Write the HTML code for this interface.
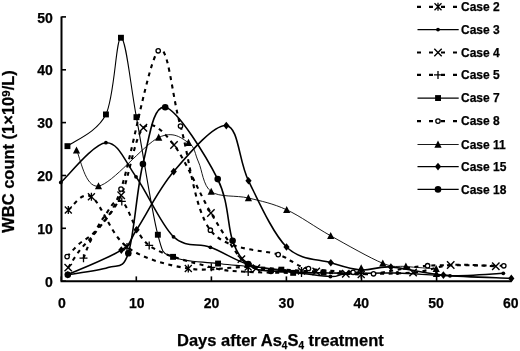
<!DOCTYPE html>
<html><head><meta charset="utf-8"><style>
html,body{margin:0;padding:0;background:#fff;}
body{width:520px;height:351px;overflow:hidden;}
svg{display:block;will-change:transform;}
text{font-family:"Liberation Sans",sans-serif;font-weight:bold;fill:#000;stroke:#000;stroke-width:0.25px;}
.t{font-size:14px;}
.ti{font-size:16.5px;}
.lg{font-size:12px;}
</style></head><body>
<svg width="520" height="351" viewBox="0 0 520 351"><path d="M61.5,16.5V281.2H511.5" fill="none" stroke="#000" stroke-width="2"/><path d="M61.5,281.2h4.5" stroke="#000" stroke-width="1.6"/><path d="M61.5,228.3h4.5" stroke="#000" stroke-width="1.6"/><path d="M61.5,175.5h4.5" stroke="#000" stroke-width="1.6"/><path d="M61.5,122.6h4.5" stroke="#000" stroke-width="1.6"/><path d="M61.5,69.8h4.5" stroke="#000" stroke-width="1.6"/><path d="M61.5,16.9h4.5" stroke="#000" stroke-width="1.6"/><path d="M61.3,281.2v-4.8" stroke="#000" stroke-width="1.6"/><path d="M136.3,281.2v-4.8" stroke="#000" stroke-width="1.6"/><path d="M211.4,281.2v-4.8" stroke="#000" stroke-width="1.6"/><path d="M286.4,281.2v-4.8" stroke="#000" stroke-width="1.6"/><path d="M361.5,281.2v-4.8" stroke="#000" stroke-width="1.6"/><path d="M436.6,281.2v-4.8" stroke="#000" stroke-width="1.6"/><path d="M511.6,281.2v-4.8" stroke="#000" stroke-width="1.6"/><path d="M76.5,150.4 C80.2,156.3 84.8,188.2 98.5,186.1 C112.2,183.9 143.7,144.7 158.7,137.5 C173.7,130.3 181.9,138.6 188.5,142.7 C195.1,146.8 194.7,153.8 198.5,162.0 C202.3,170.2 202.9,185.6 211.2,191.6 C219.5,197.6 235.8,195.0 248.4,198.0 C261.0,201.0 273.0,203.5 286.7,209.8 C300.4,216.1 314.7,226.9 330.7,235.8 C346.7,244.7 370.3,258.2 382.8,263.3 C395.3,268.4 397.0,265.6 405.9,266.5 C414.8,267.4 431.1,268.4 436.2,268.8" fill="none" stroke="#000" stroke-width="0.9"/><path d="M60.8,182.4 C68.3,175.8 93.4,143.6 105.9,142.7 C118.4,141.8 124.7,161.1 136.0,176.8 C147.3,192.5 161.1,225.1 173.5,236.8 C185.9,248.6 198.0,242.7 210.4,247.3 C222.8,251.9 235.8,260.6 248.2,264.5 C260.6,268.4 271.3,269.0 285.0,271.0 C298.7,273.0 320.2,276.0 330.4,276.5 C340.6,277.0 334.8,274.6 346.0,274.0 C357.2,273.4 380.1,272.7 397.4,273.0 C414.7,273.3 432.4,275.8 450.0,275.8 C467.6,275.9 494.4,273.7 503.3,273.3" fill="none" stroke="#000" stroke-width="1.5"/><path d="M67.4,146.2 C73.8,140.9 97.0,132.6 105.9,114.5 C114.8,96.4 115.9,37.3 121.0,37.8 C126.1,38.2 130.3,84.4 136.4,117.2 C142.5,150.0 151.7,211.4 157.8,234.7 C163.9,258.0 163.0,252.1 173.0,256.9 C183.0,261.7 199.9,261.4 218.0,263.5 C236.1,265.6 268.9,268.1 281.4,269.6 C293.9,271.2 286.2,272.3 293.2,272.8 C300.2,273.3 318.4,272.6 323.5,272.5" fill="none" stroke="#000" stroke-width="1.1"/><path d="M67.8,274.7 C76.7,270.6 109.8,257.6 121.3,250.1 C132.8,242.6 127.9,242.8 136.6,229.7 C145.3,216.6 158.8,188.9 173.7,171.6 C188.6,154.2 213.8,124.1 226.3,125.6 C238.8,127.1 238.5,160.6 248.5,180.8 C258.5,201.0 272.8,233.3 286.5,247.0 C300.2,260.6 318.4,258.9 330.8,262.7 C343.2,266.5 351.2,269.3 361.2,270.0 C371.2,270.7 377.2,266.1 390.9,267.0 C404.6,267.9 423.3,273.2 443.4,275.1 C463.5,277.0 500.0,277.8 511.3,278.4" fill="none" stroke="#000" stroke-width="1.6"/><path d="M67.8,274.7 C74.5,273.5 97.9,271.2 108.0,267.6 C118.1,264.0 122.5,270.6 128.3,253.3 C134.1,236.0 136.8,188.3 142.9,164.0 C149.1,139.7 152.7,104.7 165.2,107.2 C177.7,109.7 206.5,156.8 217.7,179.1 C228.9,201.4 227.5,226.7 232.6,240.8 C237.7,255.0 241.8,259.0 248.2,264.0 C254.6,269.0 252.1,269.4 270.9,271.0 C289.7,272.6 346.0,273.1 361.0,273.5" fill="none" stroke="#000" stroke-width="1.6"/><path d="M67.1,256.6 C69.1,254.5 74.0,248.6 79.0,244.0 C84.0,239.4 90.0,238.2 97.0,229.0 C104.0,219.8 110.8,218.7 121.0,189.0 C131.2,159.3 148.3,61.3 158.2,50.8 C168.1,40.3 171.8,96.1 180.5,126.0 C189.2,155.9 194.1,208.8 210.4,230.2 C226.7,251.6 264.9,249.5 278.2,254.6 C291.5,259.6 284.9,258.2 290.0,260.5 C295.1,262.8 298.0,266.5 308.5,268.5 C319.0,270.5 342.3,271.4 353.1,272.3 C363.9,273.2 361.1,274.9 373.5,273.8 C385.9,272.7 405.9,267.0 427.6,265.7 C449.3,264.4 491.1,265.8 503.8,265.8" fill="none" stroke="#000" stroke-width="2.1" stroke-dasharray="4 4.5"/><path d="M68.2,267.6 C70.2,264.7 75.5,255.8 80.0,250.0 C84.5,244.2 88.1,242.1 95.0,233.0 C101.9,223.9 113.1,212.8 121.2,195.3 C129.3,177.8 134.6,136.2 143.4,127.8 C152.2,119.4 162.8,130.8 174.0,145.0 C185.2,159.2 199.7,194.0 210.9,213.0 C222.1,232.0 233.8,249.9 241.4,259.1 C249.0,268.3 243.9,266.1 256.4,268.2 C268.9,270.3 301.3,270.6 316.2,271.5 C331.1,272.4 329.6,273.6 345.8,273.8 C362.0,274.0 395.6,274.0 413.1,272.5 C430.6,271.0 436.9,266.0 450.7,265.0 C464.5,264.0 488.3,266.1 495.8,266.3" fill="none" stroke="#000" stroke-width="2.1" stroke-dasharray="4 4.5"/><path d="M68.3,210.0 C72.2,207.8 81.6,190.5 91.4,196.7 C101.2,202.9 110.8,235.0 127.0,247.0 C143.2,259.0 168.1,265.2 188.3,268.5 C208.5,271.8 229.3,266.6 248.2,267.0 C267.1,267.4 282.7,269.8 301.5,271.0 C320.3,272.2 351.2,273.9 361.2,274.5" fill="none" stroke="#000" stroke-width="2.1" stroke-dasharray="4 4.5"/><path d="M83.5,258.2 C84.6,255.5 86.6,248.9 90.0,242.0 C93.4,235.1 98.7,223.8 104.0,217.0 C109.3,210.2 114.3,196.7 121.8,201.4 C129.3,206.1 134.3,234.4 149.2,245.4 C164.1,256.4 194.8,262.9 211.3,267.3 C227.8,271.7 233.2,270.9 248.2,271.9 C263.2,272.8 292.6,272.8 301.5,273.0" fill="none" stroke="#000" stroke-width="2.1" stroke-dasharray="4 4.5"/><path d="M76.5,146.5l3.6,7.1h-7.2z"/><path d="M98.5,182.2l3.6,7.1h-7.2z"/><path d="M158.7,133.6l3.6,7.1h-7.2z"/><path d="M188.5,138.8l3.6,7.1h-7.2z"/><path d="M211.2,187.7l3.6,7.1h-7.2z"/><path d="M248.4,194.1l3.6,7.1h-7.2z"/><path d="M286.7,205.9l3.6,7.1h-7.2z"/><path d="M330.7,231.9l3.6,7.1h-7.2z"/><path d="M382.8,259.4l3.6,7.1h-7.2z"/><path d="M405.9,262.6l3.6,7.1h-7.2z"/><path d="M436.2,264.9l3.6,7.1h-7.2z"/><circle cx="60.8" cy="182.4" r="1.9"/><circle cx="105.9" cy="142.7" r="1.9"/><circle cx="136.0" cy="176.8" r="1.9"/><circle cx="173.5" cy="236.8" r="1.9"/><circle cx="210.4" cy="247.3" r="1.9"/><circle cx="248.2" cy="264.5" r="1.9"/><circle cx="285.0" cy="271.0" r="1.9"/><circle cx="330.4" cy="276.5" r="1.9"/><circle cx="397.4" cy="273.0" r="1.9"/><circle cx="450.0" cy="275.8" r="1.9"/><circle cx="503.3" cy="273.3" r="1.9"/><rect x="64.5" y="143.2" width="5.9" height="5.9"/><rect x="103.0" y="111.5" width="5.9" height="5.9"/><rect x="118.0" y="34.8" width="5.9" height="5.9"/><rect x="133.5" y="114.2" width="5.9" height="5.9"/><rect x="154.9" y="231.8" width="5.9" height="5.9"/><rect x="170.1" y="253.9" width="5.9" height="5.9"/><rect x="215.1" y="260.6" width="5.9" height="5.9"/><rect x="278.4" y="266.7" width="5.9" height="5.9"/><rect x="290.2" y="269.9" width="5.9" height="5.9"/><rect x="320.6" y="269.6" width="5.9" height="5.9"/><path d="M67.8,270.9l3.1,3.8l-3.1,3.8l-3.1,-3.8z"/><path d="M121.3,246.3l3.1,3.8l-3.1,3.8l-3.1,-3.8z"/><path d="M136.6,225.9l3.1,3.8l-3.1,3.8l-3.1,-3.8z"/><path d="M173.7,167.8l3.1,3.8l-3.1,3.8l-3.1,-3.8z"/><path d="M226.3,121.8l3.1,3.8l-3.1,3.8l-3.1,-3.8z"/><path d="M248.5,177.0l3.1,3.8l-3.1,3.8l-3.1,-3.8z"/><path d="M286.5,243.2l3.1,3.8l-3.1,3.8l-3.1,-3.8z"/><path d="M330.8,258.9l3.1,3.8l-3.1,3.8l-3.1,-3.8z"/><path d="M361.2,266.2l3.1,3.8l-3.1,3.8l-3.1,-3.8z"/><path d="M390.9,263.2l3.1,3.8l-3.1,3.8l-3.1,-3.8z"/><path d="M443.4,271.3l3.1,3.8l-3.1,3.8l-3.1,-3.8z"/><path d="M511.3,274.6l3.1,3.8l-3.1,3.8l-3.1,-3.8z"/><circle cx="67.8" cy="274.7" r="3.3"/><circle cx="128.3" cy="253.3" r="3.3"/><circle cx="142.9" cy="164.0" r="3.3"/><circle cx="165.2" cy="107.2" r="3.3"/><circle cx="217.7" cy="179.1" r="3.3"/><circle cx="232.6" cy="240.8" r="3.3"/><circle cx="248.2" cy="264.0" r="3.3"/><circle cx="270.9" cy="271.0" r="3.3"/><circle cx="67.1" cy="256.6" r="2.2" fill="#fff" stroke="#000" stroke-width="1.3"/><circle cx="121.0" cy="189.0" r="2.2" fill="#fff" stroke="#000" stroke-width="1.3"/><circle cx="158.2" cy="50.8" r="2.2" fill="#fff" stroke="#000" stroke-width="1.3"/><circle cx="180.5" cy="126.0" r="2.2" fill="#fff" stroke="#000" stroke-width="1.3"/><circle cx="210.4" cy="230.2" r="2.2" fill="#fff" stroke="#000" stroke-width="1.3"/><circle cx="278.2" cy="254.6" r="2.2" fill="#fff" stroke="#000" stroke-width="1.3"/><circle cx="308.5" cy="268.5" r="2.2" fill="#fff" stroke="#000" stroke-width="1.3"/><circle cx="353.1" cy="272.3" r="2.2" fill="#fff" stroke="#000" stroke-width="1.3"/><circle cx="373.5" cy="273.8" r="2.2" fill="#fff" stroke="#000" stroke-width="1.3"/><circle cx="427.6" cy="265.7" r="2.2" fill="#fff" stroke="#000" stroke-width="1.3"/><circle cx="503.8" cy="265.8" r="2.2" fill="#fff" stroke="#000" stroke-width="1.3"/><path d="M64.5,263.9l7.4,7.4m0,-7.4l-7.4,7.4" fill="none" stroke="#000" stroke-width="1.4"/><path d="M117.5,191.6l7.4,7.4m0,-7.4l-7.4,7.4" fill="none" stroke="#000" stroke-width="1.4"/><path d="M139.7,124.1l7.4,7.4m0,-7.4l-7.4,7.4" fill="none" stroke="#000" stroke-width="1.4"/><path d="M170.3,141.3l7.4,7.4m0,-7.4l-7.4,7.4" fill="none" stroke="#000" stroke-width="1.4"/><path d="M207.2,209.3l7.4,7.4m0,-7.4l-7.4,7.4" fill="none" stroke="#000" stroke-width="1.4"/><path d="M237.7,255.4l7.4,7.4m0,-7.4l-7.4,7.4" fill="none" stroke="#000" stroke-width="1.4"/><path d="M252.7,264.5l7.4,7.4m0,-7.4l-7.4,7.4" fill="none" stroke="#000" stroke-width="1.4"/><path d="M312.5,267.8l7.4,7.4m0,-7.4l-7.4,7.4" fill="none" stroke="#000" stroke-width="1.4"/><path d="M342.1,270.1l7.4,7.4m0,-7.4l-7.4,7.4" fill="none" stroke="#000" stroke-width="1.4"/><path d="M409.4,268.8l7.4,7.4m0,-7.4l-7.4,7.4" fill="none" stroke="#000" stroke-width="1.4"/><path d="M447.0,261.3l7.4,7.4m0,-7.4l-7.4,7.4" fill="none" stroke="#000" stroke-width="1.4"/><path d="M492.1,262.6l7.4,7.4m0,-7.4l-7.4,7.4" fill="none" stroke="#000" stroke-width="1.4"/><path d="M64.8,206.5l7,7m0,-7l-7,7M68.3,206.0v8" fill="none" stroke="#000" stroke-width="1.3"/><path d="M87.9,193.2l7,7m0,-7l-7,7M91.4,192.7v8" fill="none" stroke="#000" stroke-width="1.3"/><path d="M123.5,243.5l7,7m0,-7l-7,7M127.0,243.0v8" fill="none" stroke="#000" stroke-width="1.3"/><path d="M184.8,265.0l7,7m0,-7l-7,7M188.3,264.5v8" fill="none" stroke="#000" stroke-width="1.3"/><path d="M244.7,263.5l7,7m0,-7l-7,7M248.2,263.0v8" fill="none" stroke="#000" stroke-width="1.3"/><path d="M298.0,267.5l7,7m0,-7l-7,7M301.5,267.0v8" fill="none" stroke="#000" stroke-width="1.3"/><path d="M357.7,271.0l7,7m0,-7l-7,7M361.2,270.5v8" fill="none" stroke="#000" stroke-width="1.3"/><path d="M79.5,258.2h8M83.5,254.2v8" fill="none" stroke="#000" stroke-width="1.3"/><path d="M117.8,201.4h8M121.8,197.4v8" fill="none" stroke="#000" stroke-width="1.3"/><path d="M145.2,245.4h8M149.2,241.4v8" fill="none" stroke="#000" stroke-width="1.3"/><path d="M207.3,267.3h8M211.3,263.3v8" fill="none" stroke="#000" stroke-width="1.3"/><path d="M244.2,271.9h8M248.2,267.9v8" fill="none" stroke="#000" stroke-width="1.3"/><path d="M297.5,273.0h8M301.5,269.0v8" fill="none" stroke="#000" stroke-width="1.3"/><path d="M436.4,269.9l3.6,7.1h-7.2z"/><path d="M361.2,264.3l3.6,7.1h-7.2z"/><text x="52.8" y="286.8" text-anchor="end" class="t" font-size="14.6">0</text><text x="52.8" y="233.9" text-anchor="end" class="t" font-size="14.6">10</text><text x="52.8" y="181.1" text-anchor="end" class="t" font-size="14.6">20</text><text x="52.8" y="128.2" text-anchor="end" class="t" font-size="14.6">30</text><text x="52.8" y="75.4" text-anchor="end" class="t" font-size="14.6">40</text><text x="52.8" y="22.5" text-anchor="end" class="t" font-size="14.6">50</text><text x="62.0" y="308.2" text-anchor="middle" class="t" font-size="14.8">0</text><text x="136.8" y="308.2" text-anchor="middle" class="t" font-size="14.8">10</text><text x="211.6" y="308.2" text-anchor="middle" class="t" font-size="14.8">20</text><text x="286.4" y="308.2" text-anchor="middle" class="t" font-size="14.8">30</text><text x="361.2" y="308.2" text-anchor="middle" class="t" font-size="14.8">40</text><text x="436.0" y="308.2" text-anchor="middle" class="t" font-size="14.8">50</text><text x="510.8" y="308.2" text-anchor="middle" class="t" font-size="14.8">60</text><text x="177" y="346" class="ti">Days after As<tspan font-size="10" dy="3">4</tspan><tspan dy="-3">S</tspan><tspan font-size="10" dy="3">4</tspan><tspan dy="-3"> treatment</tspan></text><text transform="translate(13.7,151.5) rotate(-90)" text-anchor="middle" class="ti">WBC count (1×10<tspan font-size="11.5" dy="-4">9</tspan><tspan dy="4">/L)</tspan></text><path d="M417,6.8H458" stroke="#000" stroke-width="2.2" stroke-dasharray="4 8"/><path d="M434.5,3.3l7,7m0,-7l-7,7M438.0,2.8v8" fill="none" stroke="#000" stroke-width="1.3"/><text x="461" y="11.1" class="lg">Case 2</text><path d="M417.5,29.6H458.7" stroke="#000" stroke-width="1.4"/><circle cx="438.0" cy="29.6" r="1.9"/><text x="461" y="33.9" class="lg">Case 3</text><path d="M417,52.5H458" stroke="#000" stroke-width="2.2" stroke-dasharray="4 8"/><path d="M434.3,48.8l7.4,7.4m0,-7.4l-7.4,7.4" fill="none" stroke="#000" stroke-width="1.4"/><text x="461" y="56.8" class="lg">Case 4</text><path d="M417,74.9H458" stroke="#000" stroke-width="2.2" stroke-dasharray="4 8"/><path d="M434.0,74.9h8M438.0,70.9v8" fill="none" stroke="#000" stroke-width="1.3"/><text x="461" y="79.2" class="lg">Case 5</text><path d="M417.5,98.1H458.7" stroke="#000" stroke-width="1.1"/><rect x="435.1" y="95.1" width="5.9" height="5.9"/><text x="461" y="102.4" class="lg">Case 7</text><path d="M417,121.1H458" stroke="#000" stroke-width="2.2" stroke-dasharray="4 8"/><circle cx="438.0" cy="121.1" r="2.2" fill="#fff" stroke="#000" stroke-width="1.3"/><text x="461" y="125.4" class="lg">Case 8</text><path d="M417.5,144.5H458.7" stroke="#000" stroke-width="0.9"/><path d="M438.0,140.6l3.6,7.1h-7.2z"/><text x="461" y="148.8" class="lg">Case 11</text><path d="M417.5,166.6H458.7" stroke="#000" stroke-width="1.4"/><path d="M438.0,162.8l3.1,3.8l-3.1,3.8l-3.1,-3.8z"/><text x="461" y="170.9" class="lg">Case 15</text><path d="M417.5,189.4H458.7" stroke="#000" stroke-width="1.4"/><circle cx="438.0" cy="189.4" r="3.3"/><text x="461" y="193.7" class="lg">Case 18</text></svg>
</body></html>
